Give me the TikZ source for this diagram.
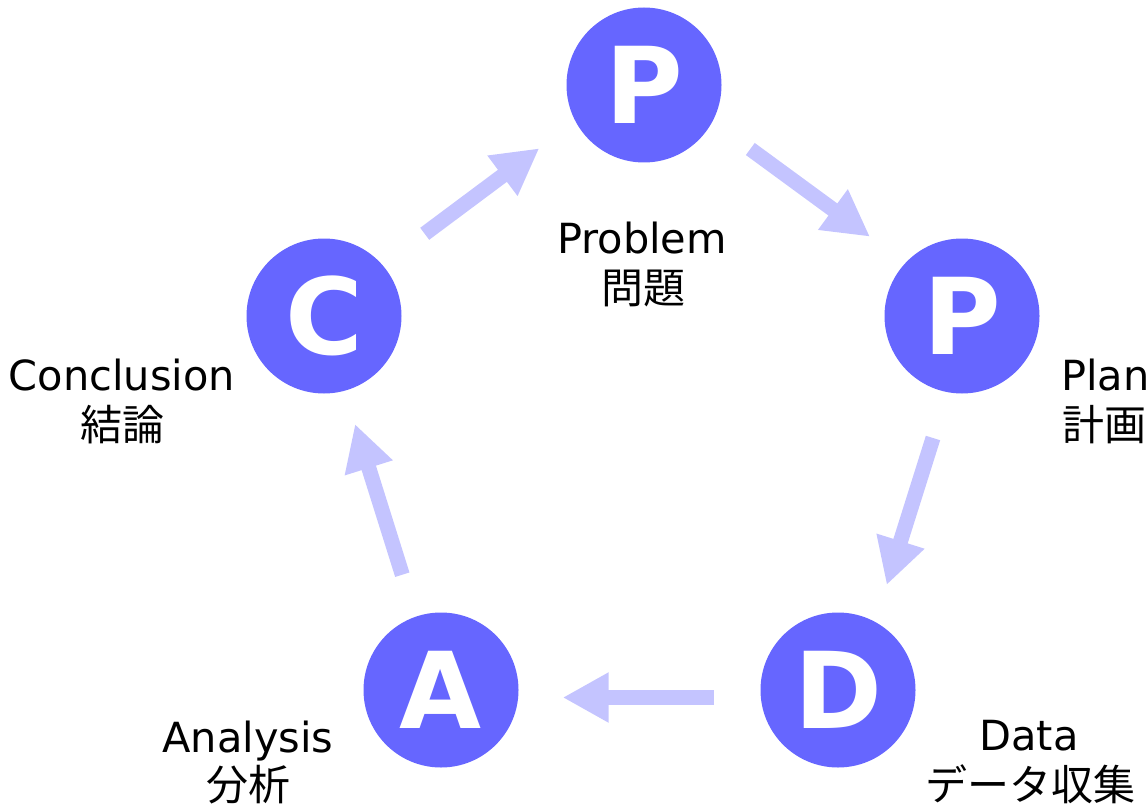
\documentclass[tikz,border=0pt]{standalone}
\usepackage{fontspec}
\setmainfont{DejaVu Sans}
\newfontfamily\jp{Noto Sans CJK JP}
\usetikzlibrary{arrows.meta}
\definecolor{circ}{HTML}{6666FF}
\definecolor{arrc}{HTML}{C4C4FF}
\begin{document}
\begin{tikzpicture}[x=1pt,y=-1pt,
  stage/.style={circle,fill=circ,draw=none,minimum size=155pt,inner sep=0pt,text=white,font=\fontsize{106}{110}\selectfont\bfseries},
  flow/.style={draw=arrc,line width=15pt,-{Triangle[width=47pt,length=46pt]}},
  lat/.style={inner sep=0pt,anchor=base,font=\fontsize{41.5}{48}\selectfont},
  jap/.style={inner sep=0pt,anchor=base,font=\fontsize{42}{48}\selectfont\jp}]
\useasboundingbox (0,0) rectangle (1148,805);
% stages
\node[stage] (p1) at (644,85) {P};
\node[stage] (p2) at (962,316) {P};
\node[stage] (d) at (838,690) {D};
\node[stage] (a) at (441,690) {A};
\node[stage] (c) at (324,316) {C};
% labels
\node[lat] (l1a) at (642,253) {Problem};
\node[jap] (l1b) at (643,303) {問題};
\node[lat,anchor=base west] (l2a) at (1061,390) {Plan};
\node[jap,anchor=base west] (l2b) at (1062,440) {計画};
\node[lat] (l3a) at (1029,750) {Data};
\node[jap] (l3b) at (1030,800) {データ収集};
\node[lat] (l4a) at (248,752) {Analysis};
\node[jap] (l4b) at (248,800) {分析};
\node[lat] (l5a) at (122,390) {Conclusion};
\node[jap] (l5b) at (122,440) {結論};
% arrow ends
\coordinate (t1) at (424.7,233.8); \coordinate (h1) at (539.3,148.3);
\coordinate (t2) at (750.3,149);   \coordinate (h2) at (870,236.7);
\coordinate (t3) at (933,438);     \coordinate (h3) at (886.7,585);
\coordinate (t4) at (714,697.5);   \coordinate (h4) at (562.7,697.5);
\coordinate (t5) at (402.3,574.7); \coordinate (h5) at (355,424);
\draw[flow] (t1) -- (h1);
\draw[flow] (t2) -- (h2);
\draw[flow] (t3) -- (h3);
\draw[flow] (t4) -- (h4);
\draw[flow] (t5) -- (h5);
\end{tikzpicture}
\end{document}
